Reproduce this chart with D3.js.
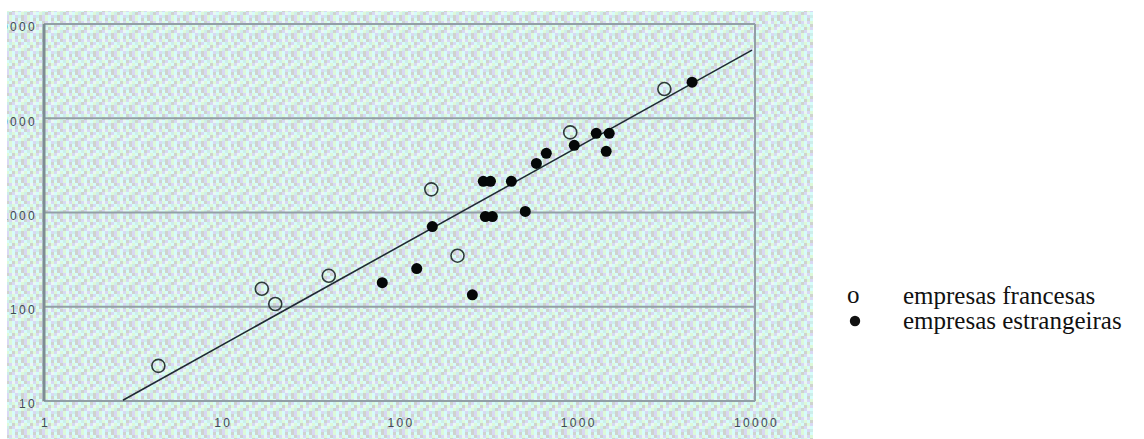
<!DOCTYPE html>
<html>
<head>
<meta charset="utf-8">
<script src="https://cdn.jsdelivr.net/npm/d3@7"></script>
<style>
  body { margin: 0; background: #fff; }
  svg { display: block; }
</style>
</head>
<body>
<svg id="chart" width="1144" height="439"></svg>
<script>
// empresas francesas (open circles)
const francesasX = [4.4, 16.8, 20, 40, 151, 212, 913, 3090];
const francesasY = [23.6, 155, 107, 213, 1760, 348, 7080, 20400];

// empresas estrangeiras (filled dots)
const estrangeirasX = [4426, 1279, 1513, 962, 1455, 670, 589, 296, 325, 426, 304, 333, 510, 153, 125, 80, 257];
const estrangeirasY = [24150, 6920, 6920, 5160, 4460, 4250, 3320, 2140, 2140, 2140, 906, 906, 1026, 710, 254, 180, 134];

// fitted line end points
const trendX = [2.78, 9620];
const trendY = [10.2, 52800];

const xTicks = [1, 10, 100, 1000, 10000];
const yTicks = [10, 100, 1000, 10000, 100000];

const legendLabels = ['empresas francesas', 'empresas estrangeiras'];

const svg = d3.select('#chart');

const x = d3.scaleLog().domain([1, 10000]).range([44, 755]);
const y = d3.scaleLog().domain([10, 100000]).range([401, 24]);

// dithered scan-like background
const defs = svg.append('defs');
const pal = ['#d6fcfa', '#d8d8f4', '#ddf9d8', '#cfd3ce', '#eaf7f4', '#cdeeea'];
const pat = defs.append('pattern')
    .attr('id', 'dither')
    .attr('patternUnits', 'userSpaceOnUse')
    .attr('width', 18).attr('height', 18);
const cells = [
  [0,3,1,2,0,3],[2,0,3,1,4,1],[3,1,0,5,2,0],
  [1,4,2,0,3,2],[0,2,5,3,1,4],[5,3,1,2,0,1]
];
cells.forEach((row, r) => row.forEach((c, k) => {
  pat.append('rect').attr('x', k * 3).attr('y', r * 3)
    .attr('width', 3).attr('height', 3).attr('fill', pal[c]);
}));

defs.append('clipPath').attr('id', 'scan')
  .append('rect').attr('x', 7).attr('y', 11).attr('width', 806).attr('height', 428);

const g = svg.append('g').attr('clip-path', 'url(#scan)');

g.append('rect')
  .attr('x', 7).attr('y', 11).attr('width', 806).attr('height', 428)
  .attr('fill', 'url(#dither)');

// horizontal grid lines
g.selectAll('.grid')
  .data(yTicks)
  .join('line')
  .attr('class', 'grid')
  .attr('x1', x(1)).attr('x2', x(10000))
  .attr('y1', d => y(d)).attr('y2', d => y(d))
  .attr('stroke', '#929fa6')
  .attr('stroke-width', 2.2);

// right border
g.append('line')
  .attr('x1', x(10000)).attr('x2', x(10000))
  .attr('y1', y(100000)).attr('y2', y(10))
  .attr('stroke', '#929fa6').attr('stroke-width', 2);

// left axis
g.append('line')
  .attr('x1', x(1)).attr('x2', x(1))
  .attr('y1', y(100000)).attr('y2', y(10))
  .attr('stroke', '#7d8c92').attr('stroke-width', 3);

// axes labels
const yAxis = d3.axisLeft(y).tickValues(yTicks).tickSize(0).tickPadding(0).tickFormat(d3.format('d'));
const yg = g.append('g').attr('transform', 'translate(37,3)').call(yAxis);
yg.select('.domain').remove();
yg.selectAll('text')
  .style('font-family', 'Liberation Sans, Arial, sans-serif')
  .style('font-size', '12px')
  .style('letter-spacing', '2.3px')
  .attr('fill', '#3f4a55');

const xAxis = d3.axisBottom(x).tickValues(xTicks).tickSize(0).tickPadding(0).tickFormat(d3.format('d'));
const xg = g.append('g').attr('transform', 'translate(1,418)').call(xAxis);
xg.select('.domain').remove();
xg.selectAll('text')
  .style('font-family', 'Liberation Sans, Arial, sans-serif')
  .style('font-size', '12px')
  .style('letter-spacing', '2.3px')
  .attr('fill', '#3f4a55');

// trend line
const line = d3.line().x(d => x(d[0])).y(d => y(d[1]));
g.append('path')
  .datum(d3.zip(trendX, trendY))
  .attr('d', line)
  .attr('fill', 'none')
  .attr('stroke', '#1f2a33')
  .attr('stroke-width', 1.6);

// open circles
g.selectAll('.fr')
  .data(d3.zip(francesasX, francesasY))
  .join('circle')
  .attr('class', 'fr')
  .attr('cx', d => x(d[0])).attr('cy', d => y(d[1]))
  .attr('r', 6.5)
  .attr('fill', 'none')
  .attr('stroke', '#2e3a3a')
  .attr('stroke-width', 1.6);

// filled dots
g.selectAll('.es')
  .data(d3.zip(estrangeirasX, estrangeirasY))
  .join('circle')
  .attr('class', 'es')
  .attr('cx', d => x(d[0])).attr('cy', d => y(d[1]))
  .attr('r', 5.5)
  .attr('fill', '#050808');

// legend
const legend = svg.append('g')
  .style('font-family', 'Liberation Serif, Times New Roman, serif')
  .style('font-size', '25px')
  .attr('fill', '#111');

legend.append('text').attr('x', 847).attr('y', 303).text('o');
legend.append('circle').attr('cx', 855).attr('cy', 321).attr('r', 5.2).attr('fill', '#111');

legend.selectAll('.lab')
  .data(legendLabels)
  .join('text')
  .attr('class', 'lab')
  .attr('x', 903)
  .attr('y', (d, i) => 304 + i * 25)
  .text(d => d);
</script>
</body>
</html>
